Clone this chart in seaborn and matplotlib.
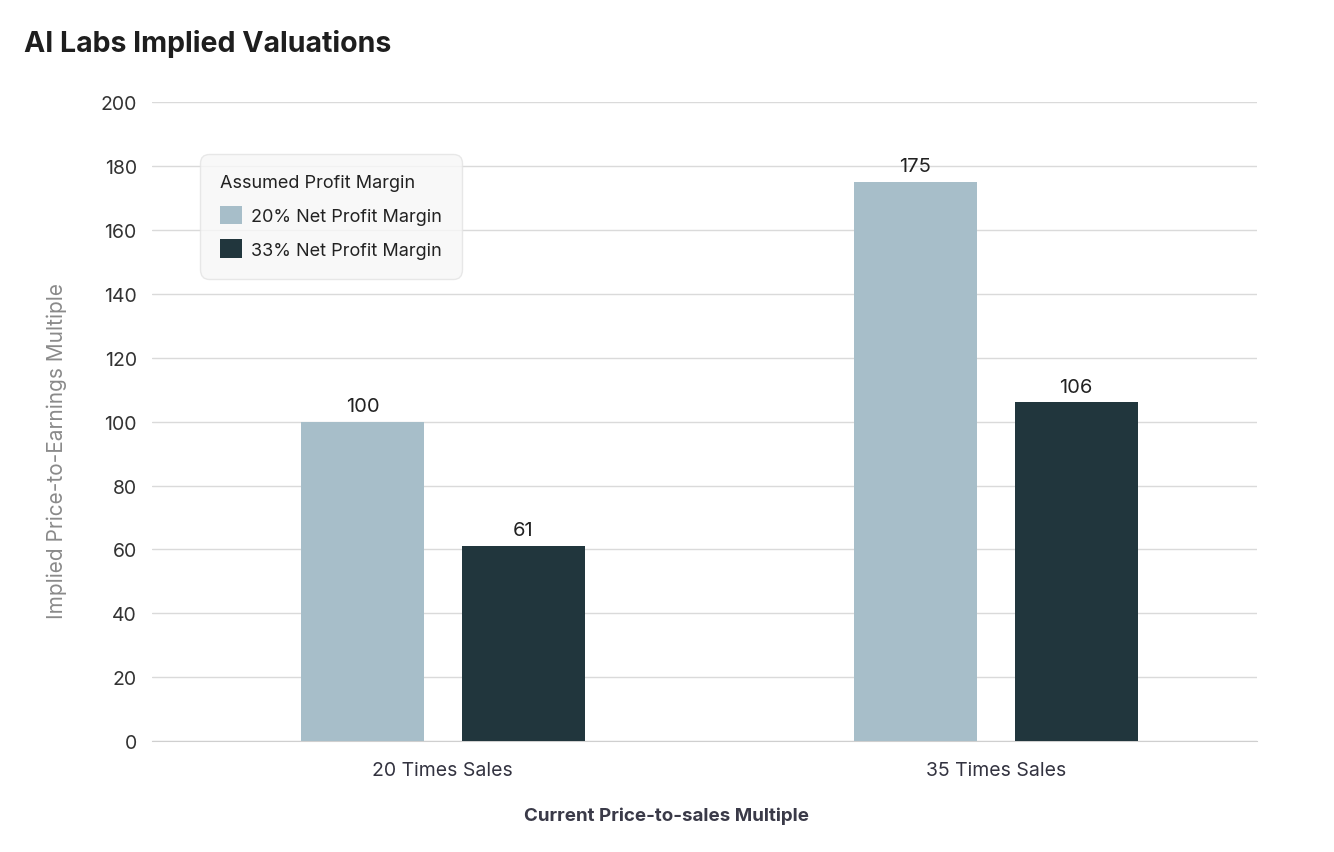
import matplotlib
matplotlib.use("Agg")
import matplotlib.pyplot as plt
import seaborn as sns
import pandas as pd

# data
categories = ["20 Times Sales", "35 Times Sales"]
margin_20 = [100, 175]
margin_33 = [61, 106]
series_names = ["20% Net Profit Margin", "33% Net Profit Margin"]
y_ticks = [0, 20, 40, 60, 80, 100, 120, 140, 160, 180, 200]

df = pd.DataFrame({
    "sales": categories * 2,
    "margin": [series_names[0]] * 2 + [series_names[1]] * 2,
    "pe": margin_20 + margin_33,
})

sns.set_style("white")
plt.rcParams['font.family'] = ['Inter', 'DejaVu Sans']

fig = plt.figure(figsize=(13.34, 8.53), dpi=100)
ax = fig.add_axes([0.114, 0.130, 0.828, 0.749])

palette = ["#A7BEC9", "#21363D"]
sns.barplot(data=df, x="sales", y="pe", hue="margin", palette=palette,
            width=0.582, gap=0.236, saturation=1, linewidth=0, ax=ax, zorder=3)

for c in ax.containers:
    ax.bar_label(c, fmt="%d", padding=5, fontsize=14.5, color="#222222")

ax.set_ylim(0, 200)
ax.set_yticks(y_ticks)
ax.set_xlim(-0.526, 1.472)
ax.yaxis.grid(True, color="#DADADA", linewidth=1, zorder=0)
ax.xaxis.grid(False)
for s in ["top", "right", "left"]:
    ax.spines[s].set_visible(False)
ax.spines["bottom"].set_color("#CFCFCF")
ax.tick_params(axis="y", length=0, pad=11, labelsize=14, labelcolor="#333333")
ax.tick_params(axis="x", length=0, pad=14, labelsize=14, labelcolor="#333340")

ax.set_ylabel("Implied Price-to-Earnings Multiple", fontsize=15, color="#8A8A8A")
ax.yaxis.set_label_coords(-0.077, 0.455)
ax.set_xlabel("Current Price-to-sales Multiple", fontsize=13.5, color="#3A3A48",
              fontweight="bold")
ax.xaxis.set_label_coords(0.466, -0.103)

fig.text(0.018, 0.949, "AI Labs Implied Valuations", fontsize=20.5, fontweight="bold",
         color="#1E1E1E", ha="left", va="center")

leg = ax.legend(title="Assumed Profit Margin", loc="upper left",
                bbox_to_anchor=(0.0434, 0.9186), borderaxespad=0,
                frameon=True, fontsize=13, title_fontsize=13,
                alignment="left", handlelength=1.2, handleheight=1.2,
                borderpad=1.1, labelspacing=0.8, handletextpad=0.55)
leg.get_frame().set_facecolor("#F7F7F7")
leg.get_frame().set_edgecolor("#E3E3E3")
leg.get_frame().set_linewidth(1)
leg.get_frame().set_boxstyle("round,pad=0,rounding_size=0.5")
leg.get_title().set_color("#222222")
for t in leg.get_texts():
    t.set_color("#222222")

fig.savefig("out.png", dpi=100, facecolor="white")
